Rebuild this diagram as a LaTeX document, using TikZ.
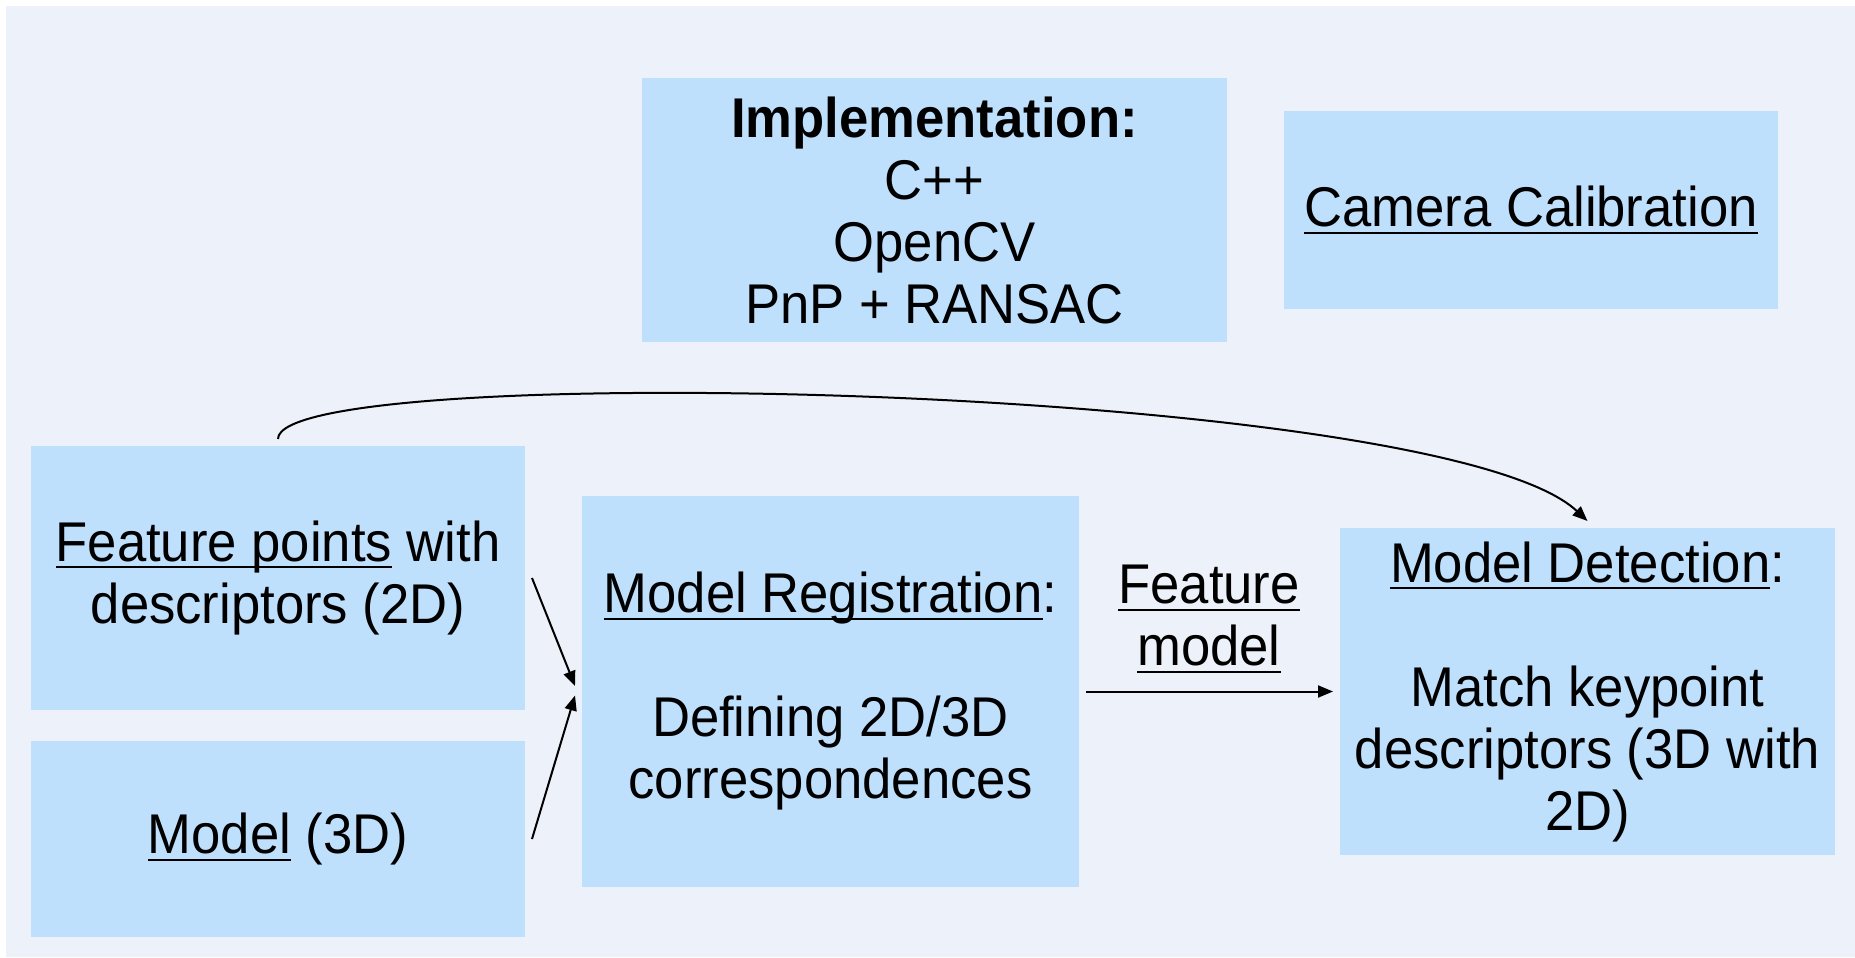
\documentclass[tikz,border=0pt]{standalone}
\usepackage{fontspec}
\setmainfont{Liberation Sans}[FakeStretch=0.94]
\usetikzlibrary{
    arrows.meta,
    positioning
}
\definecolor{bgblue}{RGB}{237,241,249}
\definecolor{boxblue}{RGB}{191,224,253}
% underline that sits just below the baseline
\newcommand{\ulin}[1]{\leavevmode\setbox0\hbox{#1}\rlap{\rule[-3.5pt]{\wd0}{1pt}}\box0\relax}
\tikzset{
    % Boxes
    box/.style={fill=boxblue,inner sep=2pt,outer sep=3.5pt,align=center,
        font=\fontsize{28}{31}\selectfont},
    lbl/.style={inner sep=0pt,align=center,font=\fontsize{28}{31}\selectfont},
    %
    % Arrows
    arrow tip/.tip={Triangle[length=7.5pt,width=6pt]},
    arr/.style={->,>={arrow tip},line width=1pt},
}

\begin{document}
\begin{tikzpicture}[x=0.5pt,y=-0.5pt]
        \useasboundingbox (0,0) rectangle (1855,957);
        \fill[bgblue] (6,6) rectangle (1855,957);
        \node[box,minimum width=292.5pt,minimum height=132pt] (impl) at (934.5,210)
            {\textbf{Implementation:}\\C++\\OpenCV\\PnP + RANSAC};
        \node[box,minimum width=247pt,minimum height=99pt] (calib) at (1531,210)
            {\ulin{Camera Calibration}};
        \node[box,minimum width=247pt,minimum height=132pt] (feat) at (278,578)
            {\ulin{Feature points} with\\descriptors (2D)};
        \node[box,minimum width=247pt,minimum height=98pt] (model) at (278,839)
            {\ulin{Model} (3D)};
        \node[box,minimum width=248.5pt,minimum height=195.5pt] (reg) at (830.5,691.5)
            {\ulin{Model Registration}:\\[31pt]Defining 2D/3D\\correspondences};
        \node[box,minimum width=247.5pt,minimum height=163.5pt] (detect) at (1587.5,691.5)
            {\ulin{Model Detection}:\\[31pt]Match keypoint\\descriptors (3D with\\2D)};
        \node[lbl] (fmodel) at (1209,619) {\ulin{Feature}\\\ulin{model}};
        \draw[arr] (feat.east) -- ([yshift=2.75pt]reg.west);
        \draw[arr] (model.east) -- ([yshift=-2pt]reg.west);
        \draw[arr] (reg.east) -- (detect.west);
        \draw[arr] (feat.north) .. controls +(0,-80) and +(-147.5,-138) .. (detect.north);
    \end{tikzpicture}
\end{document}
